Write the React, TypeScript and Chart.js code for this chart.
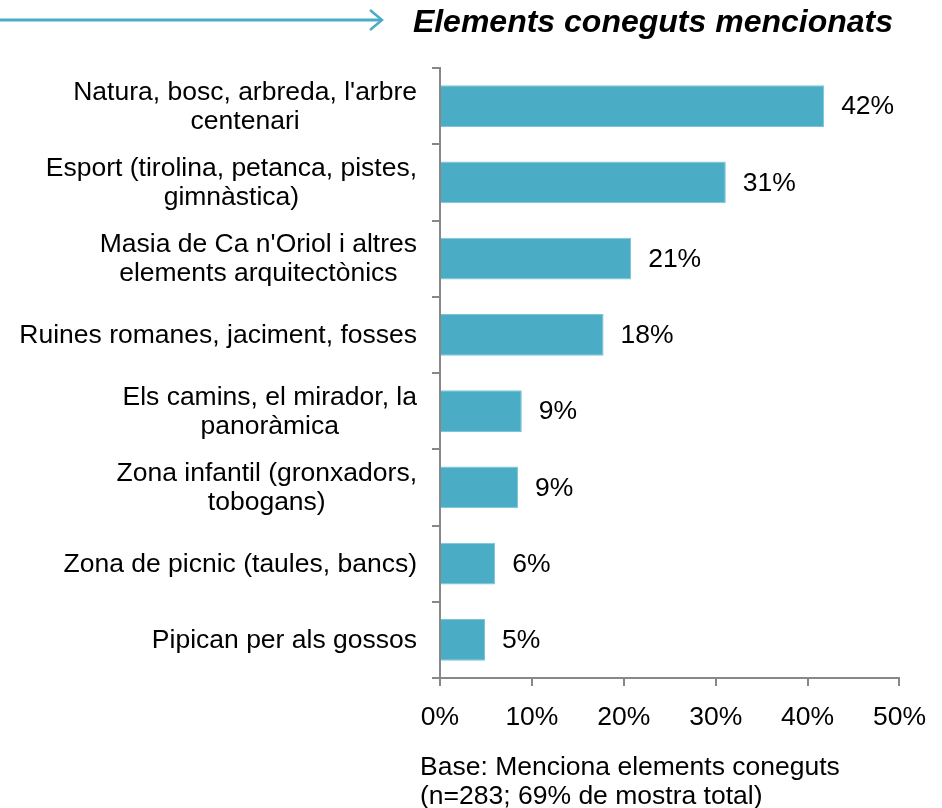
import React, { useEffect, useRef } from "react";
import { Chart, registerables } from "chart.js";

Chart.register(...registerables);

const categories: string[][] = [
  ["Natura, bosc, arbreda, l'arbre", "centenari"],
  ["Esport (tirolina, petanca, pistes,", "gimnàstica)"],
  ["Masia de Ca n'Oriol i altres", "elements arquitectònics"],
  ["Ruines romanes, jaciment, fosses"],
  ["Els camins, el mirador, la", "panoràmica"],
  ["Zona infantil (gronxadors,", "tobogans)"],
  ["Zona de picnic (taules, bancs)"],
  ["Pipican per als gossos"],
];
const values: number[] = [41.8, 31.1, 20.8, 17.8, 8.9, 8.5, 6.0, 4.9];
const xTicks: number[] = [0, 10, 20, 30, 40, 50];
const titleText = "Elements coneguts mencionats";
const footnote: string[] = ["Base: Menciona elements coneguts", "(n=283; 69% de mostra total)"];

const FONT = "'Liberation Sans', Arial, sans-serif";
const BAR = "#4BACC6";
const AXIS = "#878787";
const FS = 26.5;

const decorPlugin = {
  id: "decor",
  afterDraw(chart: any) {
    const ctx = chart.ctx;
    const y = chart.scales.y;
    const x = chart.scales.x;
    ctx.save();
    // title arrow
    ctx.strokeStyle = BAR;
    ctx.lineWidth = 3;
    ctx.beginPath();
    ctx.moveTo(0, 20);
    ctx.lineTo(382, 20);
    ctx.stroke();
    ctx.lineWidth = 2.5;
    ctx.beginPath();
    ctx.moveTo(370, 10);
    ctx.lineTo(382, 20);
    ctx.lineTo(370, 30);
    ctx.stroke();
    // title
    ctx.fillStyle = "#000";
    ctx.font = `italic bold 32px ${FONT}`;
    ctx.textAlign = "right";
    ctx.textBaseline = "alphabetic";
    ctx.fillText(titleText, 893, 32);
    // category labels
    ctx.font = `${FS}px ${FONT}`;
    ctx.textAlign = "center";
    ctx.textBaseline = "middle";
    const lh = 29;
    categories.forEach((lines, i) => {
      const cy = y.getPixelForValue(i);
      const w = Math.max(...lines.map((l) => ctx.measureText(l).width));
      const cx = 417 - w / 2;
      const y0 = cy - ((lines.length - 1) * lh) / 2;
      lines.forEach((l, k) => ctx.fillText(l, cx, y0 + k * lh + 1));
    });
    // value labels
    ctx.textAlign = "left";
    values.forEach((v, i) => {
      const px = x.getPixelForValue(v);
      const py = y.getPixelForValue(i);
      ctx.fillText(`${Math.round(v)}%`, px + 17, py + 1);
    });
    // footnote
    footnote.forEach((l, k) => ctx.fillText(l, 420, 768 + k * 29));
    ctx.restore();
  },
};

export default function App() {
  const ref = useRef<HTMLCanvasElement | null>(null);
  useEffect(() => {
    if (!ref.current) return;
    const chart = new Chart(ref.current, {
      type: "bar",
      data: {
        labels: categories.map((c) => c.join(" ")),
        datasets: [
          {
            data: values,
            backgroundColor: BAR,
            borderColor: "#7cc4d6",
            borderWidth: 1,
            barPercentage: 0.55,
            categoryPercentage: 1,
          },
        ],
      },
      options: {
        indexAxis: "y",
        animation: false,
        responsive: false,
        maintainAspectRatio: false,
        layout: { padding: { left: 0, right: 41, top: 68, bottom: 0 } },
        plugins: { legend: { display: false }, tooltip: { enabled: false } },
        scales: {
          x: {
            min: 0,
            max: 50,
            afterBuildTicks: (s: any) => {
              s.ticks = xTicks.map((v) => ({ value: v }));
            },
            afterFit: (s: any) => {
              s.height = 130;
            },
            ticks: {
              callback: (v: any) => `${v}%`,
              font: { family: FONT, size: FS },
              color: "#000",
              padding: 16,
              maxRotation: 0,
            },
            grid: {
              drawOnChartArea: false,
              drawTicks: true,
              tickLength: 8,
              color: AXIS,
              lineWidth: 2,
            },
            border: { display: true, color: AXIS, width: 2 },
          },
          y: {
            afterFit: (s: any) => {
              s.width = 440;
            },
            ticks: { display: false },
            grid: {
              offset: true,
              drawOnChartArea: false,
              drawTicks: true,
              tickLength: 8,
              color: AXIS,
              lineWidth: 2,
            },
            border: { display: true, color: AXIS, width: 2 },
          },
        },
      },
      plugins: [decorPlugin],
    });
    return () => chart.destroy();
  }, []);
  return (
    <div style={{ position: "absolute", left: 0, top: 0, width: 942, height: 808, background: "#fff" }}>
      <canvas ref={ref} width={942} height={808} style={{ width: 942, height: 808 }} />
    </div>
  );
}
